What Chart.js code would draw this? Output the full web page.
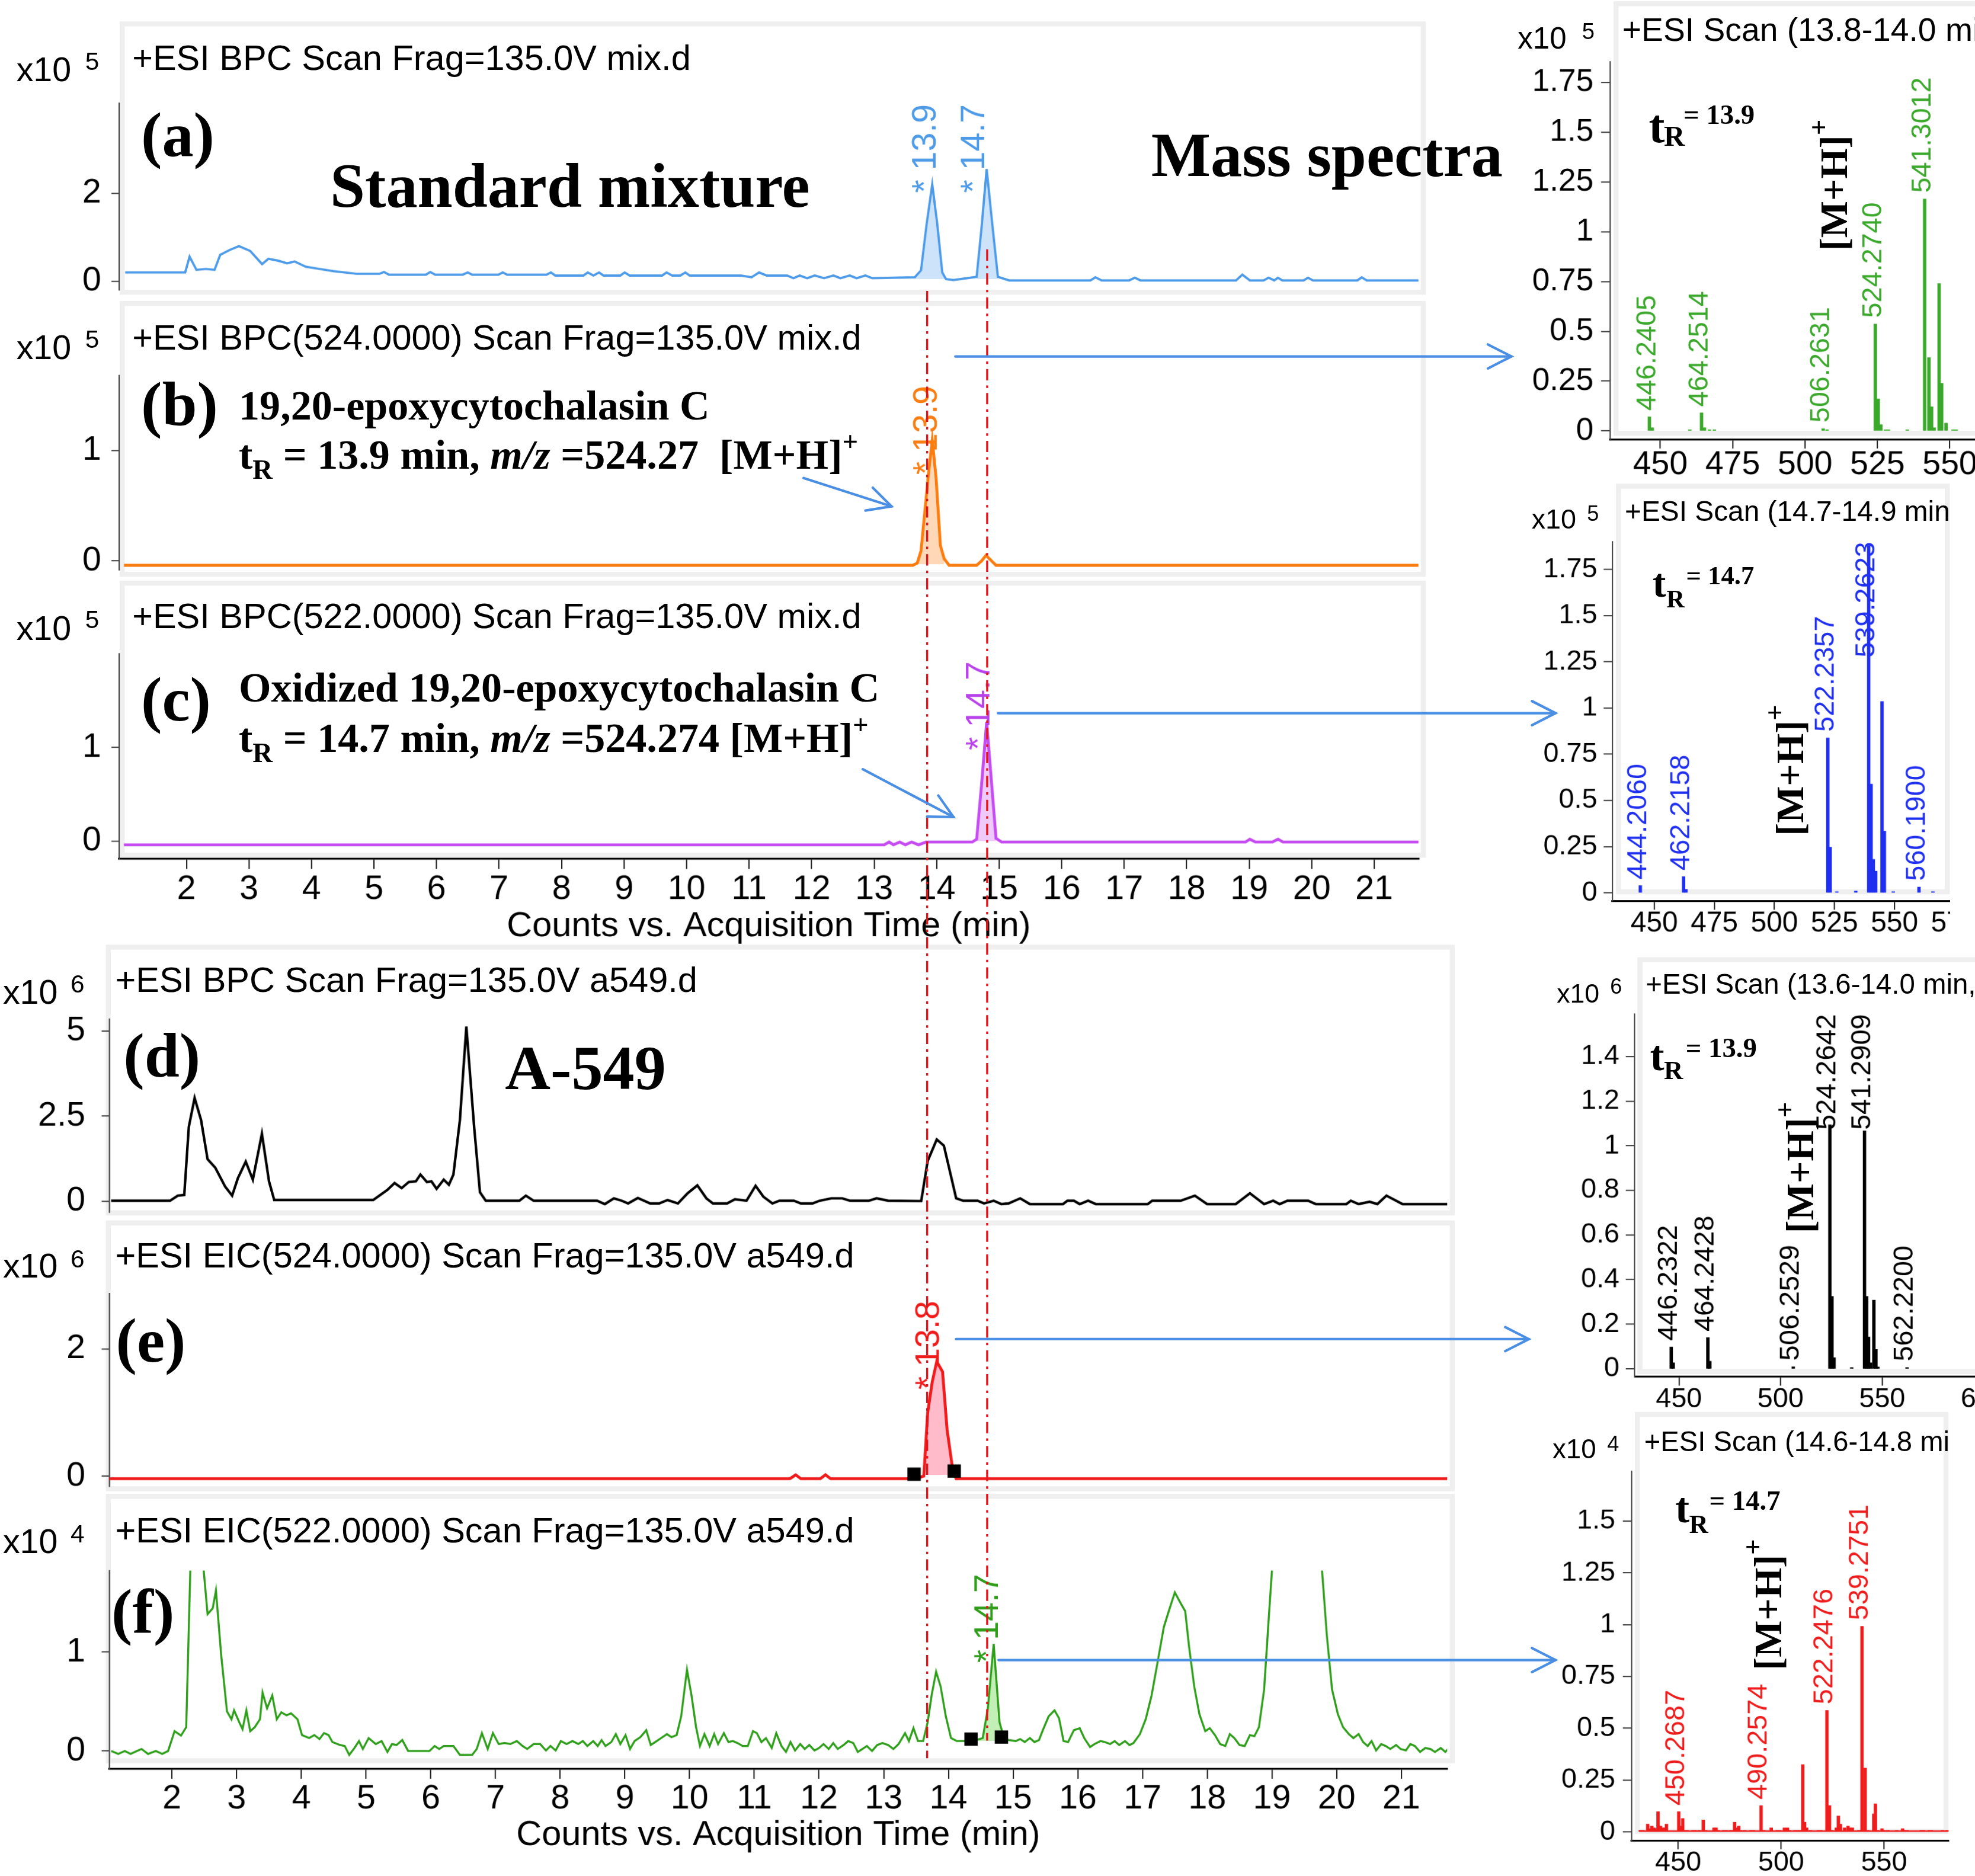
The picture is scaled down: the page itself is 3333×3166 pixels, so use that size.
<!DOCTYPE html>
<html><head><meta charset="utf-8">
<script src="https://cdn.jsdelivr.net/npm/chart.js@4.4.1/dist/chart.umd.min.js"></script>
<style>
html,body{margin:0;padding:0;background:#fff;overflow:hidden;width:3333px;height:3166px;}
#W{position:absolute;left:0;top:0;width:1568px;height:1490px;transform:scale(2.1256);transform-origin:0 0;overflow:hidden;background:#fff;}
.frame{position:absolute;box-sizing:border-box;border:4px solid #efefef;}
.clip{position:absolute;overflow:hidden;}
.cw{position:absolute;}
</style></head><body><div id="W"></div><script>
// ---------------- DATA ----------------
const timeTicks = [2,3,4,5,6,7,8,9,10,11,12,13,14,15,16,17,18,19,20,21];

// (a) +ESI BPC mix.d  (x10^5)
const aTime = [1.02,1.98,2.05,2.16,2.31,2.45,2.54,2.69,2.84,3.02,
 3.21,3.31,3.46,3.61,3.73,3.91,4.13,4.35,4.72,5.09,
 5.16,5.24,5.83,5.90,5.98,6.42,6.50,6.57,6.99,7.06,
 7.13,7.76,7.83,7.90,8.35,8.42,8.51,8.60,8.67,8.94,
 9.01,9.09,9.61,9.68,9.77,9.90,9.98,10.05,10.87,11.04,
 11.16,11.28,11.61,11.71,11.81,11.93,12.05,12.20,12.35,12.46,
 12.61,12.72,12.86,12.97,13.65,13.75,13.84,13.93,14.01,14.09,
 14.15,14.27,14.49,14.64,14.72,14.80,14.89,14.98,15.16,16.46,
 16.54,16.64,17.08,17.17,17.26,18.79,18.89,19.01,19.23,19.31,
 19.40,19.46,19.53,19.87,19.94,20.02,20.73,20.80,20.88,21.71];
const aCounts = [0.2,0.2,0.56,0.26,0.28,0.26,0.6,0.71,0.8,0.69,
 0.39,0.51,0.47,0.41,0.45,0.33,0.28,0.23,0.17,0.17,
 0.21,0.15,0.15,0.21,0.15,0.15,0.2,0.15,0.15,0.2,
 0.15,0.15,0.2,0.13,0.13,0.2,0.13,0.2,0.13,0.13,
 0.2,0.13,0.13,0.2,0.13,0.13,0.2,0.13,0.13,0.09,
 0.2,0.13,0.13,0.07,0.13,0.07,0.13,0.07,0.13,0.07,
 0.13,0.07,0.13,0.07,0.09,0.25,1.3,2.2,1.3,0.2,
 0.05,0.03,0.07,0.1,1.24,2.55,1.3,0.1,0.02,0.02,
 0.09,0.02,0.02,0.08,0.02,0.02,0.15,0.02,0.02,0.08,
 0.02,0.08,0.02,0.02,0.08,0.02,0.02,0.09,0.02,0.02];
const aPeakWindows = [[13.65,14.15],[14.64,14.98]];
const aPeakText = ['* 13.9','* 14.7'];
const aPeakTime = [13.83,14.61];
const aPeakCounts = [2.01,2.01];
const aYTicks = [0,2];

// (b) +ESI BPC(524.0000) mix.d (x10^5)
const bTime = [1.0,13.62,13.69,13.75,13.87,13.93,13.99,14.06,14.12,14.2,14.64,14.72,14.79,14.86,14.95,21.71];
const bCounts = [-0.04,-0.04,-0.02,0.09,0.79,1.09,0.76,0.14,0.02,-0.04,-0.04,0.0,0.05,0.01,-0.04,-0.04];
const bPeakWindows = [[13.62,14.12]];
const bPeakText = ['* 13.9'];
const bPeakTime = [13.85];
const bPeakCounts = [0.78];
const bYTicks = [0,1];

// (c) +ESI BPC(522.0000) mix.d (x10^5)
const cTime = [1.0,13.16,13.24,13.31,13.41,13.5,13.6,13.71,13.83,13.9,
 14.57,14.64,14.72,14.8,14.88,14.95,15.04,18.94,19.01,19.1,
 19.37,19.46,19.54,21.71];
const cCounts = [-0.04,-0.04,-0.01,-0.04,-0.01,-0.04,-0.01,-0.04,-0.01,-0.01,
 -0.01,0.02,0.61,1.27,0.61,0.03,-0.01,-0.01,0.02,-0.01,
 -0.01,0.02,-0.01,-0.01];
const cPeakWindows = [[14.6,14.97]];
const cPeakText = ['* 14.7'];
const cPeakTime = [14.69];
const cPeakCounts = [0.97];
const cYTicks = [0,1];

// (d) +ESI BPC a549.d (x10^6)
const dTime = [1.06,1.97,2.09,2.19,2.26,2.35,2.45,2.55,2.67,2.82,
 2.93,3.02,3.14,3.25,3.39,3.50,3.58,5.11,5.33,5.44,
 5.55,5.66,5.77,5.84,5.94,6.01,6.09,6.20,6.28,6.35,
 6.45,6.55,6.67,6.76,6.85,7.37,7.47,7.59,8.57,8.69,
 8.83,8.95,9.05,9.20,9.39,9.53,9.66,9.82,9.97,10.12,
 10.26,10.36,10.58,10.70,10.88,11.02,11.14,11.28,11.39,11.61,
 11.72,11.90,12.01,12.19,12.36,12.48,12.77,12.89,13.07,13.58,
 13.68,13.82,13.93,14.12,14.23,14.45,14.55,14.70,14.82,14.93,
 15.11,15.26,15.77,15.84,15.94,16.03,16.16,16.28,17.08,17.15,
 17.59,17.81,18.00,18.44,18.66,18.88,19.02,19.12,19.24,19.56,
 19.68,20.15,20.22,20.34,20.51,20.63,20.77,21.02,21.71];
const dCounts = [0.01,0.01,0.16,0.18,2.18,3.03,2.38,1.23,0.98,0.43,
 0.16,0.68,1.16,0.63,1.98,0.58,0.03,0.03,0.33,0.53,
 0.38,0.56,0.58,0.78,0.56,0.58,0.36,0.63,0.48,0.78,
 2.38,5.13,2.18,0.26,0.01,0.01,0.16,0.01,0.01,-0.09,
 0.08,0.01,-0.07,0.09,-0.07,-0.07,0.03,-0.07,0.23,0.46,
 0.08,-0.07,-0.07,0.05,0.01,0.45,0.13,-0.07,0.01,0.01,
 -0.07,-0.07,0.01,0.08,0.08,0.01,0.01,0.08,0.01,0.0,
 1.18,1.81,1.63,0.08,0.01,0.01,-0.07,0.01,-0.09,-0.07,
 0.08,-0.09,-0.09,0.01,0.01,-0.09,0.01,-0.09,-0.09,0.01,
 0.01,0.16,-0.09,-0.09,0.23,-0.09,0.01,-0.09,0.01,0.01,
 -0.09,-0.09,0.01,-0.09,-0.02,-0.09,0.16,-0.09,-0.09];
const dYTicks = [0,2.5,5];

// (e) +ESI EIC(524.0000) a549.d (x10^6)
const eTime = [1.03,11.55,11.64,11.72,12.02,12.1,12.18,13.5,13.62,13.68,13.75,13.82,13.91,13.98,14.06,14.12,21.71];
const eCounts = [-0.04,-0.04,0.02,-0.04,-0.04,0.02,-0.04,-0.04,0.0,1.0,1.48,1.8,1.64,0.73,0.15,-0.04,-0.04];
const ePeakWindows = [[13.5,14.12]];
const eMarkerTime = [13.47,14.09];
const eMarkerCounts = [0.03,0.08];
const ePeakText = ['* 13.8'];
const ePeakTime = [13.71];
const ePeakCounts = [1.36];
const eYTicks = [0,2];

// (f) +ESI EIC(522.0000) a549.d (x10^4)
const fTime = [1.06,1.17,1.27,1.36,1.46,1.53,1.63,1.75,1.85,1.94,
 2.04,2.14,2.22,2.33,2.55,2.63,2.68,2.76,2.85,2.92,
 2.96,3.04,3.09,3.15,3.21,3.28,3.36,3.40,3.47,3.55,
 3.62,3.69,3.77,3.84,3.94,4.01,4.12,4.20,4.28,4.35,
 4.42,4.48,4.60,4.67,4.74,4.82,4.89,4.95,5.04,5.15,
 5.24,5.33,5.40,5.47,5.56,5.65,5.98,6.06,6.13,6.20,
 6.35,6.45,6.64,6.71,6.79,6.88,6.96,7.05,7.14,7.23,
 7.33,7.42,7.49,7.59,7.69,7.78,7.85,7.93,8.01,8.10,
 8.19,8.28,8.35,8.42,8.51,8.58,8.64,8.70,8.79,8.86,
 8.93,9.01,9.08,9.15,9.24,9.33,9.40,9.47,9.56,9.65,
 9.72,9.80,9.87,9.96,10.03,10.10,10.16,10.23,10.31,10.38,
 10.44,10.53,10.60,10.67,10.74,10.82,10.90,10.98,11.04,11.11,
 11.18,11.27,11.34,11.42,11.49,11.56,11.63,11.71,11.78,11.85,
 11.93,12.00,12.07,12.15,12.22,12.29,12.38,12.45,12.53,12.60,
 12.67,12.74,12.82,12.90,12.98,13.07,13.15,13.23,13.33,13.39,
 13.46,13.53,13.61,13.68,13.74,13.81,13.88,13.96,14.04,14.13,
 14.23,14.38,14.53,14.61,14.70,14.79,14.86,14.93,15.04,15.11,
 15.18,15.26,15.33,15.40,15.46,15.55,15.64,15.71,15.78,15.85,
 15.94,16.03,16.10,16.19,16.26,16.35,16.42,16.50,16.57,16.64,
 16.73,16.80,16.86,16.96,17.05,17.14,17.24,17.33,17.42,17.50,
 17.59,17.66,17.72,17.80,17.88,17.97,18.04,18.12,18.20,18.28,
 18.35,18.42,18.50,18.58,18.66,18.73,18.80,18.88,18.95,19.05,
 19.39,19.72,19.85,19.93,20.02,20.10,20.19,20.26,20.34,20.41,
 20.48,20.54,20.61,20.69,20.76,20.83,20.92,20.99,21.07,21.14,
 21.21,21.29,21.37,21.45,21.52,21.61,21.68,21.74];
const fCounts = [0,-0.03,0,-0.03,0,0.02,-0.03,0,-0.03,0,
 0.2,0.155,0.24,3.0,1.38,1.44,1.62,0.97,0.40,0.32,
 0.41,0.29,0.22,0.41,0.20,0.24,0.32,0.59,0.43,0.56,
 0.32,0.39,0.36,0.38,0.32,0.16,0.13,0.16,0.12,0.18,
 0.16,0.09,0.06,0.05,-0.04,0.03,0.10,0.02,0.13,0.07,
 0.10,-0.01,0.07,0.06,0.11,0,0,0.05,0.02,0.05,
 0.05,-0.04,-0.04,0.02,0.18,0.02,0.18,0.07,0.08,0.07,
 0.10,0.05,0.02,0.07,0.07,0.005,0.05,0.005,0.10,0.07,
 0.10,0.07,0.10,0.05,0.10,0.05,0.11,0.05,0.09,0.17,
 0.07,0.16,0.02,0.10,0.14,0.21,0.06,0.09,0.13,0.17,
 0.14,0.16,0.35,0.82,0.56,0.24,0.05,0.17,0.05,0.17,
 0.07,0.18,0.09,0.10,0.08,0.05,0.05,0.20,0.18,0.09,
 0.13,0.03,0.18,0.05,-0.01,0.09,0.005,0.07,0.02,0.06,
 0.005,0.03,0.07,0.02,0.08,0.02,0.06,0.10,0.08,-0.01,
 0.02,0.05,0,0.06,0.08,0.06,0.02,0.07,0.18,0.10,
 0.23,0.10,0.10,0.29,0.56,0.80,0.65,0.35,0.13,0.10,
 0.10,0.10,0.13,0.43,1.08,0.29,0.13,0.11,0.10,0.12,
 0.09,0.13,0.09,0.11,0.21,0.35,0.41,0.33,0.10,0.09,
 0.21,0.23,0.13,0.04,0.07,0.10,0.09,0.07,0.10,0.06,
 0.10,0.06,0.08,0.17,0.32,0.56,0.92,1.25,1.44,1.60,
 1.49,1.41,1.05,0.65,0.37,0.20,0.23,0.16,0.07,0.05,
 0.17,0.13,0.06,0.05,0.16,0.15,0.24,0.62,1.33,2.3,
 3.4,2.3,1.16,0.62,0.37,0.24,0.17,0.13,0.17,0.09,
 0.05,0.10,0.005,0.07,0.05,0.02,0.06,0.02,0.005,0.07,
 0.05,-0.01,0.03,0.02,-0.01,0.03,-0.01,0.03];
const fPeakWindows = [[14.38,14.86]];
const fMarkerTime = [14.35,14.82];
const fMarkerCounts = [0.12,0.14];
const fPeakText = ['* 14.7'];
const fPeakTime = [14.62];
const fPeakCounts = [0.89];
const fYTicks = [0,1];

// retention-time guide lines (min, on the standard-mixture time axis)
const guideTimes = [13.85,14.81];

// Mass spectra
const ms1Mz  = [446.24,447.24,460.2,464.25,465.25,467.0,468.7,506.26,507.6,524.27,
 525.27,526.2,527.8,528.8,535.3,541.30,542.8,543.7,544.6,546.3,
 547.2,548.7,551.1,552.2];
const ms1Int = [0.07,0.015,0.005,0.09,0.015,0.005,0.005,0.01,0.005,0.536,
 0.16,0.03,0.005,0.005,0.005,1.164,0.367,0.12,0.015,0.739,
 0.238,0.038,0.005,0.005];
const ms1Labels = ['446.2405','464.2514','506.2631','524.2740','541.3012'];
const ms1YTicks = [0,0.25,0.5,0.75,1,1.25,1.5,1.75];
const ms1XTicks = [450,475,500,525,550];

const ms2Mz  = [444.21,462.22,463.2,522.24,523.24,526.0,533.9,539.26,540.27,541.2,542.2,544.8,545.8,549.5,560.19,566.0];
const ms2Int = [0.038,0.087,0.018,0.837,0.246,0.005,0.008,1.876,0.587,0.18,0.116,1.034,0.333,0.005,0.03,0.005];
const ms2Labels = ['444.2060','462.2158','522.2357','539.2623','560.1900'];
const ms2YTicks = [0,0.25,0.5,0.75,1,1.25,1.5,1.75];
const ms2XTicks = [450,475,500,525,550,575];

const ms3Mz  = [446.23,447.2,464.24,465.2,506.25,524.26,525.3,526.3,535.0,541.29,542.3,543.3,544.3,545.9,546.9,547.9,562.22];
const ms3Int = [0.097,0.026,0.139,0.033,0.008,1.093,0.324,0.049,0.005,1.066,0.324,0.142,0.026,0.307,0.086,0.007,0.005];
const ms3Labels = ['446.2322','464.2428','506.2529','524.2642','541.2909','562.2200'];
const ms3YTicks = [0,0.2,0.4,0.6,0.8,1,1.2,1.4];
const ms3XTicks = [450,500,550,600];

const ms4Mz  = [431.6,432.8,435.2,436.4,437.2,438.2,439.2,440.2,441.4,442.4,
 443.3,444.3,450.27,451.0,452.2,453.3,454.4,457.2,458.2,460.2,
 462.2,463.3,467.4,468.4,469.4,472.2,473.4,475.4,476.5,477.4,
 478.4,479.4,480.4,482.3,485.4,486.6,490.26,491.6,495.2,498.1,
 499.2,501.6,503.1,504.1,506.7,508.1,509.5,510.5,511.4,512.4,
 514.3,518.1,519.3,522.25,523.5,524.6,526.8,527.8,528.8,530.8,
 532.5,533.6,534.6,537.8,539.28,540.8,542.1,545.0,545.8,546.8,
 549.0,550.0,551.9,556.2,559.0,560.2,561.2,568.1,569.1,572.0,
 573.0,578.4,580.6];
const ms4Int = [0.007,0.007,0.037,0.015,0.027,0.019,0.015,0.097,0.027,0.019,
 0.019,0.037,0.097,0.027,0.064,0.007,0.007,0.007,0.007,0.007,
 0.057,0.007,0.019,0.019,0.007,0.007,0.007,0.007,0.007,0.046,
 0.019,0.027,0.007,0.007,0.007,0.007,0.126,0.007,0.019,0.007,
 0.007,0.019,0.019,0.007,0.007,0.007,0.007,0.324,0.046,0.019,
 0.007,0.007,0.007,0.585,0.126,0.007,0.019,0.076,0.037,0.019,
 0.027,0.019,0.019,0.007,0.991,0.307,0.007,0.086,0.135,0.007,
 0.015,0.007,0.007,0.007,0.015,0.007,0.007,0.007,0.007,0.007,
 0.007,0.007,0.007];
const ms4BaseMz = [431,581];
const ms4BaseInt = [0.004,0.004];
const ms4Labels = ['450.2687','490.2574','522.2476','539.2751'];
const ms4YTicks = [0,0.25,0.5,0.75,1,1.25,1.5];
const ms4XTicks = [450,500,550];

// ---------------- LAYOUT (display px, page is scaled up) ----------------
const GEO = {
  a:{canvasLeft:0,left:94.4,right:1126.2,xmin:0.92,xmax:21.71,top:81.55,bottom:230.3,ymin:-0.2,ymax:4.05},
  b:{canvasLeft:0,left:94.4,right:1126.2,xmin:0.92,xmax:21.71,top:297.5,bottom:451.5,ymin:-0.08,ymax:1.68},
  c:{canvasLeft:0,left:94.4,right:1126.2,xmin:0.92,xmax:21.71,top:519.3,bottom:682,ymin:-0.19,ymax:2.0,xAxisH:70.4},
  d:{canvasLeft:0,left:86.7,right:1149.1,xmin:1.03,xmax:21.71,top:808.95,bottom:962.0,ymin:-0.32,ymax:5.35},
  e:{canvasLeft:0,left:86.7,right:1149.1,xmin:1.03,xmax:21.71,top:1026.8,bottom:1180.0,ymin:-0.16,ymax:2.87},
  f:{canvasLeft:0,left:86.7,right:1149.1,xmin:1.03,xmax:21.71,top:1247.0,bottom:1404.4,ymin:-0.178,ymax:1.82,xAxisH:70},
  m1:{canvasLeft:1170,left:1278,right:1570.5,xmin:432.6,xmax:560,top:49.1,bottom:349.0,ymin:-0.044,ymax:1.854,xAxisH:32},
  m2:{canvasLeft:1170,left:1280,right:1560.8,xmin:432.6,xmax:580,top:430.0,bottom:714.7,ymin:-0.044,ymax:1.90,xAxisH:32,clipRight:1548},
  m3:{canvasLeft:1190,left:1297.8,right:1583.3,xmin:428.2,xmax:605,top:805.25,bottom:1092.6,ymin:-0.036,ymax:1.59,xAxisH:32},
  m4:{canvasLeft:1190,left:1295.5,right:1547.4,xmin:427.4,xmax:581.4,top:1167.8,bottom:1460.6,ymin:-0.041,ymax:1.74,xAxisH:32}
};

// ---------------- BUILD ----------------
Chart.defaults.font.family = "'Liberation Sans', Arial, sans-serif";
Chart.defaults.color = '#000';
const DPR = 2.2;
const W = document.getElementById('W');
const fmt = v => String(Math.round(v*1000)/1000);

function frame(l,t,r,b){
  const d=document.createElement('div'); d.className='frame';
  Object.assign(d.style,{left:l+'px',top:t+'px',width:(r-l)+'px',height:(b-t)+'px'});
  W.appendChild(d);
}
[[95,16.5,1132,234],[95,238.5,1132,458.4],[95,460.5,1132,680.5],
 [84,750,1155,965],[84,968.8,1155,1184.4],[84,1186,1155,1400],
 [1281,1.2,1600,345.6],[1282.5,383.6,1548,710.5],[1300,759.7,1600,1090.8],[1298.4,1120.8,1547.3,1456]
].forEach(r=>frame(...r));

function yAxis(g, ticks, size, pad, tl){
  return {type:'linear',position:'left',min:g.ymin,max:g.ymax,
    afterFit:s=>{s.width=g.left-g.canvasLeft;},
    afterBuildTicks:s=>{s.ticks=ticks.map(v=>({value:v}));},
    border:{display:true,color:'#444',width:1},
    grid:{display:true,drawOnChartArea:false,drawTicks:true,tickLength:tl,color:'#444',lineWidth:1},
    ticks:{autoSkip:false,padding:pad,font:{size:size},color:'#000',callback:v=>fmt(v)}};
}
function xAxis(g, ticks, o){
  if(!g.xAxisH) return {type:'linear',min:g.xmin,max:g.xmax,display:false};
  return {type:'linear',position:'bottom',min:g.xmin,max:g.xmax,offset:false,
    afterFit:s=>{s.height=g.xAxisH;},
    afterBuildTicks:s=>{s.ticks=ticks.map(v=>({value:v}));},
    border:{display:true,color:'#000',width:1.5},
    grid:{display:true,offset:false,drawOnChartArea:false,drawTicks:true,tickLength:o.tl,color:'#222',lineWidth:1},
    ticks:{autoSkip:false,maxRotation:0,minRotation:0,padding:o.pad,font:{size:o.size,lineHeight:o.lh},color:'#000',callback:v=>fmt(v)},
    title:o.title?{display:true,text:o.title,font:{size:28},color:'#000',padding:{top:0,bottom:0}}:{display:false}};
}
function mount(g, config){
  const padT=45,padR=20,padB=g.xAxisH?0:45;
  const top=g.top-padT;
  const h=(g.bottom-g.top)+padT+(g.xAxisH||0)+padB;
  const w=g.right+padR-g.canvasLeft;
  let parent=W,left=g.canvasLeft,ctop=top;
  if(g.clipRight){
    const c=document.createElement('div'); c.className='clip';
    Object.assign(c.style,{left:g.canvasLeft+'px',top:top+'px',width:(g.clipRight-g.canvasLeft)+'px',height:h+'px'});
    W.appendChild(c); parent=c; left=0; ctop=0;
  }
  const d=document.createElement('div'); d.className='cw';
  Object.assign(d.style,{left:left+'px',top:ctop+'px',width:w+'px',height:h+'px'});
  parent.appendChild(d);
  const cv=document.createElement('canvas'); d.appendChild(cv);
  const o=config.options;
  o.layout={padding:{top:padT,right:padR,bottom:padB,left:0}};
  o.responsive=true; o.maintainAspectRatio=false; o.animation=false; o.devicePixelRatio=DPR; o.events=[];
  o.plugins={legend:{display:false},tooltip:{enabled:false}};
  const ch=new Chart(cv, config);
  ch.resize(w,h);   // untransformed size (the page wrapper is CSS-scaled)
  return ch;
}
function peakPlugin(texts,times,counts,color){
  return {id:'peakLabels',afterDatasetsDraw(chart){
    const ctx=chart.ctx,x=chart.scales.x,y=chart.scales.y;
    ctx.save(); ctx.fillStyle=color; ctx.font="27px 'Liberation Sans'"; ctx.textAlign='left'; ctx.textBaseline='middle';
    texts.forEach((t,i)=>{ctx.save();ctx.translate(x.getPixelForValue(times[i]),y.getPixelForValue(counts[i]));ctx.rotate(-Math.PI/2);ctx.fillText(t,0,0);ctx.restore();});
    ctx.restore();
  }};
}
function specPlugin(labels,mz,inten,color){
  return {id:'specLabels',afterDatasetsDraw(chart){
    const ctx=chart.ctx,ca=chart.chartArea,x=chart.scales.x,y=chart.scales.y;
    ctx.save(); ctx.fillStyle=color; ctx.font="22px 'Liberation Sans'"; ctx.textAlign='left'; ctx.textBaseline='middle';
    labels.forEach(lab=>{
      const m=parseFloat(lab); let bi=0,bd=1e9;
      mz.forEach((v,i)=>{const dd=Math.abs(v-m); if(dd<bd){bd=dd;bi=i;}});
      const px=x.getPixelForValue(mz[bi]); const len=ctx.measureText(lab).width;
      let y0=y.getPixelForValue(inten[bi])-5;
      if(y0-len<ca.top) y0=ca.top+len;
      ctx.save(); ctx.translate(px-1.5,y0); ctx.rotate(-Math.PI/2); ctx.fillText(lab,0,0); ctx.restore();
    });
    ctx.restore();
  }};
}
function chrom(g, s){
  const pts=s.time.map((t,i)=>({x:t,y:s.counts[i]}));
  const ds=[{data:pts,borderColor:s.color,borderWidth:s.lw,pointRadius:0,fill:false,tension:0,order:1}];
  (s.windows||[]).forEach(w=>{
    const sub=pts.filter(p=>p.x>=w[0]&&p.x<=w[1]);
    ds.push({data:sub,borderColor:'rgba(0,0,0,0)',borderWidth:0,pointRadius:0,backgroundColor:s.fill,fill:{value:s.fillBase||0},order:2});
  });
  if(s.mTime) ds.push({data:s.mTime.map((t,i)=>({x:t,y:s.mCounts[i]})),showLine:false,pointStyle:'rect',pointRadius:7.5,
     backgroundColor:'#000',borderColor:'#000',borderWidth:0,order:0});
  const plugins=s.pText?[peakPlugin(s.pText,s.pTime,s.pCounts,s.labelColor)]:[];
  return mount(g,{type:'line',data:{datasets:ds},
    options:{scales:{x:xAxis(g,timeTicks,{tl:8,pad:0,size:27,lh:1.2,title:'Counts vs. Acquisition Time (min)'}),
                     y:yAxis(g,s.yTicks,27,s.ypad,6)}},plugins});
}
function spectrum(g, s){
  const ds=[{type:'bar',data:s.mz.map((m,i)=>({x:m,y:s.int[i]})),backgroundColor:s.color,borderWidth:0,barThickness:2,order:1}];
  if(s.baseMz) ds.push({type:'line',data:s.baseMz.map((m,i)=>({x:m,y:s.baseInt[i]})),borderColor:s.color,borderWidth:1.3,pointRadius:0,fill:false,order:0});
  return mount(g,{type:'bar',data:{datasets:ds},
    options:{scales:{x:xAxis(g,s.xTicks,{tl:7,pad:0,size:s.xs,lh:1}),y:yAxis(g,s.yTicks,s.ys,s.ypad,7)}},
    plugins:[specPlugin(s.labels,s.mz,s.int,s.color)]});
}

const chA=chrom(GEO.a,{time:aTime,counts:aCounts,color:'#4d9be8',lw:1.8,windows:aPeakWindows,fill:'rgba(77,155,232,0.28)',fillBase:0.05,
  pText:aPeakText,pTime:aPeakTime,pCounts:aPeakCounts,labelColor:'#4d9be8',yTicks:aYTicks,ypad:8});
chrom(GEO.b,{time:bTime,counts:bCounts,color:'#fb7d10',lw:2.3,windows:bPeakWindows,fill:'rgba(251,125,16,0.3)',fillBase:-0.03,
  pText:bPeakText,pTime:bPeakTime,pCounts:bPeakCounts,labelColor:'#fb7d10',yTicks:bYTicks,ypad:8});
chrom(GEO.c,{time:cTime,counts:cCounts,color:'#c54cf0',lw:2.3,windows:cPeakWindows,fill:'rgba(210,100,240,0.35)',fillBase:0,
  pText:cPeakText,pTime:cPeakTime,pCounts:cPeakCounts,labelColor:'#b843ea',yTicks:cYTicks,ypad:8});
chrom(GEO.d,{time:dTime,counts:dCounts,color:'#000',lw:2,yTicks:dYTicks,ypad:13});
chrom(GEO.e,{time:eTime,counts:eCounts,color:'#f01c1c',lw:2.3,windows:ePeakWindows,fill:'rgba(255,120,150,0.5)',fillBase:0.02,
  mTime:eMarkerTime,mCounts:eMarkerCounts,pText:ePeakText,pTime:ePeakTime,pCounts:ePeakCounts,labelColor:'#f01c1c',yTicks:eYTicks,ypad:13});
chrom(GEO.f,{time:fTime,counts:fCounts,color:'#2e9e1a',lw:1.6,windows:fPeakWindows,fill:'rgba(120,220,90,0.45)',fillBase:0.1,
  mTime:fMarkerTime,mCounts:fMarkerCounts,pText:fPeakText,pTime:fPeakTime,pCounts:fPeakCounts,labelColor:'#2e9e1a',yTicks:fYTicks,ypad:13});

spectrum(GEO.m1,{mz:ms1Mz,int:ms1Int,labels:ms1Labels,color:'#3aa82a',xTicks:ms1XTicks,yTicks:ms1YTicks,xs:26,ys:25,ypad:6});
spectrum(GEO.m2,{mz:ms2Mz,int:ms2Int,labels:ms2Labels,color:'#1f2ff0',xTicks:ms2XTicks,yTicks:ms2YTicks,xs:22.5,ys:22,ypad:5});
spectrum(GEO.m3,{mz:ms3Mz,int:ms3Int,labels:ms3Labels,color:'#000',xTicks:ms3XTicks,yTicks:ms3YTicks,xs:22,ys:22,ypad:5});
spectrum(GEO.m4,{mz:ms4Mz,int:ms4Int,labels:ms4Labels,color:'#ee1c1c',baseMz:ms4BaseMz,baseInt:ms4BaseInt,xTicks:ms4XTicks,yTicks:ms4YTicks,xs:22,ys:22,ypad:6});

// ---------------- ANNOTATIONS (SVG text, arrows, guide lines) ----------------
const SERIF="font-family=\"'Liberation Serif', 'Times New Roman', serif\" font-weight=\"bold\"";
function T(x,y,str,size,extra){return `<text x="${x}" y="${y}" font-size="${size}" ${extra||''}>${str}</text>`;}
function arrow(x1,y1,x2,y2){
  const a=Math.atan2(y2-y1,x2-x1),L=21,h=27*Math.PI/180;
  const p1=[x2-L*Math.cos(a-h),y2-L*Math.sin(a-h)],p2=[x2-L*Math.cos(a+h),y2-L*Math.sin(a+h)];
  return `<line x1="${x1}" y1="${y1}" x2="${x2}" y2="${y2}"/><polyline points="${p1[0]},${p1[1]} ${x2},${y2} ${p2[0]},${p2[1]}"/>`;
}
function tR(xt,yt,st,xr,yr,sr,xe,ye,se,val){
  return T(xt,yt,'t',st,SERIF)+T(xr,yr,'R',sr,SERIF)+T(xe,ye,'= '+val,se,SERIF);
}
function mh(cx,cy){
  return `<text transform="translate(${cx},${cy}) rotate(-90)" text-anchor="middle" dominant-baseline="central" font-size="31" ${SERIF}>[M+H]<tspan font-size="22" dy="-12">+</tspan></text>`;
}
const ga=GEO.a;
const gx=guideTimes.map(t=>ga.left+(t-ga.xmin)/(ga.xmax-ga.xmin)*(ga.right-ga.left));
let s=`<svg xmlns="http://www.w3.org/2000/svg" width="1568" height="1490" viewBox="0 0 1568 1490" style="position:absolute;left:0;top:0" font-family="'Liberation Sans', Arial, sans-serif" fill="#000">`;
s+=`<defs><clipPath id="c1548"><rect x="0" y="0" width="1548" height="1490"/></clipPath></defs>`;
// panel titles
s+=T(105,55.5,'+ESI BPC Scan Frag=135.0V mix.d',28);
s+=T(105,277.5,'+ESI BPC(524.0000) Scan Frag=135.0V mix.d',28);
s+=T(105,498.5,'+ESI BPC(522.0000) Scan Frag=135.0V mix.d',28);
s+=T(91.5,787.5,'+ESI BPC Scan Frag=135.0V a549.d',28);
s+=T(91.5,1006.5,'+ESI EIC(524.0000) Scan Frag=135.0V a549.d',28);
s+=T(91.5,1224.5,'+ESI EIC(522.0000) Scan Frag=135.0V a549.d',28);
s+=T(1288,32.4,'+ESI Scan (13.8-14.0 min)',26);
s+=T(1290,413.6,'+ESI Scan (14.7-14.9 min, 2 scans) Frag=135.0V mix.d',22.5,'clip-path="url(#c1548)"');
s+=T(1306.6,789,'+ESI Scan (13.6-14.0 min, 4 scans) Frag=135.0V a549.d',22.3);
s+=T(1305.4,1152,'+ESI Scan (14.6-14.8 min, 2 scans) Frag=135.0V a549.d',22.2,'clip-path="url(#c1548)"');
// exponent labels
[[64.5,55.5,'5'],[285,276,'5'],[508,498.6,'5']].forEach(r=>{s+=T(13,r[0],'x10',27)+T(67.6,r[1],r[2],20);});
[[797,787.8,'6'],[1014.5,1006.5,'6'],[1233,1224.6,'4']].forEach(r=>{s+=T(2.3,r[0],'x10',27)+T(56,r[1],r[2],20);});
s+=T(1205,38.4,'x10',24)+T(1256,31,'5',18);
s+=T(1216,419.6,'x10',22)+T(1260,413.6,'5',17);
s+=T(1236,796,'x10',21)+T(1278.4,789,'6',17);
s+=T(1232.6,1158,'x10',21.5)+T(1276,1152,'4',17);
// big labels
s+=T(112,123.5,'(a)',50,SERIF)+T(112,338,'(b)',50,SERIF)+T(112,572,'(c)',50,SERIF);
s+=T(98,855,'(d)',50,SERIF)+T(92,1081,'(e)',50,SERIF)+T(88.5,1296,'(f)',50,SERIF);
s+=T(262,164,'Standard mixture',50,SERIF)+T(914,139.5,'Mass spectra',50,SERIF)+T(401,864.8,'A-549',50,SERIF);
// compound annotations
s+=T(189.6,333,'19,20-epoxycytochalasin C',33,SERIF);
s+=`<text x="189.6" y="372" font-size="33" ${SERIF} style="white-space:pre">t<tspan font-size="22" dy="8">R</tspan><tspan dy="-8"> = 13.9 min, </tspan><tspan font-style="italic">m/z</tspan> =524.27  [M+H]<tspan font-size="22" dy="-14">+</tspan></text>`;
s+=T(189.6,557,'Oxidized 19,20-epoxycytochalasin C',33,SERIF);
s+=`<text x="189.6" y="597" font-size="33" ${SERIF} style="white-space:pre">t<tspan font-size="22" dy="8">R</tspan><tspan dy="-8"> = 14.7 min, </tspan><tspan font-style="italic">m/z</tspan> =524.274 [M+H]<tspan font-size="22" dy="-14">+</tspan></text>`;
// spectra annotations
s+=tR(1309,112.8,38,1321,115.5,23,1336.6,98.4,22,'13.9');
s+=tR(1312,473.6,32,1323,482,20,1338.7,464,21,'14.7');
s+=tR(1310,849.8,34,1321,856.8,21,1338.3,839.3,22,'13.9');
s+=tR(1330,1208.4,34,1341,1217,21,1357,1198.6,22,'14.7');
s+=mh(1456,147)+mh(1421,611.6)+mh(1429,927)+mh(1403.4,1274);
// guide lines
s+=`<g stroke="#e3151a" stroke-width="1.6" stroke-dasharray="9 4 2 4" fill="none">`;
s+=`<line x1="${gx[0]}" y1="231" x2="${gx[0]}" y2="1396"/><line x1="${gx[1]}" y1="198" x2="${gx[1]}" y2="1382"/></g>`;
// arrows
s+=`<g stroke="#4a8fe3" stroke-width="2" fill="none" stroke-linecap="round">`;
s+=arrow(758.5,283,1200,283)+arrow(638,379.5,707.8,402)+arrow(792.3,566.2,1235,566.2)+arrow(685,610.7,757,648.7)
  +arrow(759,1063.2,1213.8,1063.2)+arrow(792.8,1318,1235,1318);
s+=`</g></svg>`;
W.insertAdjacentHTML('beforeend',s);
</script></body></html>
